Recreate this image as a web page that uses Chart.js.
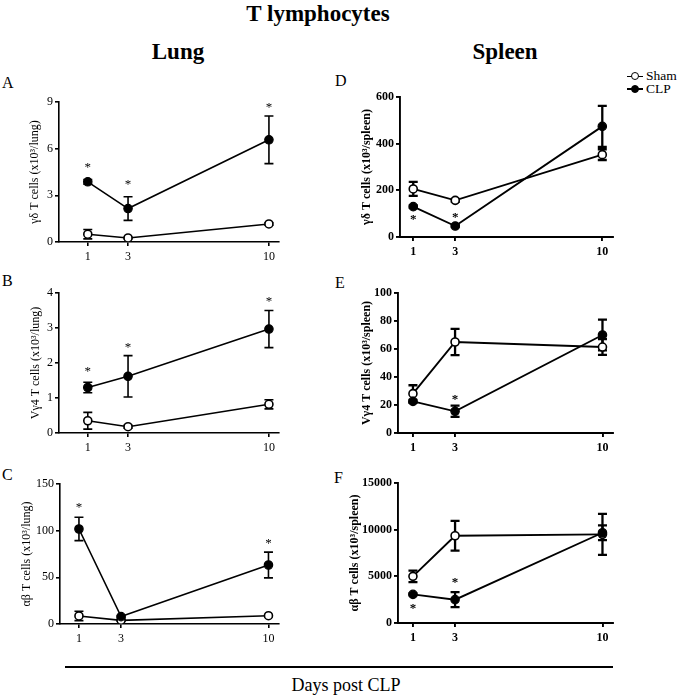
<!DOCTYPE html>
<html>
<head>
<meta charset="utf-8">
<script src="https://cdn.jsdelivr.net/npm/chart.js@4.4.1/dist/chart.umd.min.js"></script>
<style>
  body { margin: 0; background: #fff; }
  #fig { position: relative; width: 685px; height: 696px; background: #fff; font-family: "Liberation Serif", serif; color: #000; }
  .txt { position: absolute; white-space: nowrap; line-height: 1; }
  .head { font-weight: bold; font-size: 23px; }
  .letter { font-size: 16px; }
  canvas { position: absolute; }
  .leg { position: absolute; font-size: 13.5px; line-height: 12.5px; }
  .sym { position: relative; display: inline-block; width: 16px; height: 10px; margin-right: 3px; vertical-align: middle; }
  .sym::before { content: ''; position: absolute; left: 0; right: 0; top: 4px; height: 1.5px; background: #000; }
  .sym::after { content: ''; position: absolute; left: 3.5px; top: 0.5px; width: 6px; height: 6px; border: 1.5px solid #000; border-radius: 50%; background: #fff; }
  .sym.filled::after { background: #000; }
</style>
</head>
<body>
<div id="fig">
  <div class="txt head" style="left:318px;top:2px;transform:translateX(-50%)">T lymphocytes</div>
  <div class="txt head" style="left:178px;top:40px;transform:translateX(-50%)">Lung</div>
  <div class="txt head" style="left:505px;top:40px;transform:translateX(-50%)">Spleen</div>
  <div class="txt letter" style="left:2px;top:75px">A</div>
  <div class="txt letter" style="left:2px;top:273px">B</div>
  <div class="txt letter" style="left:2px;top:467px">C</div>
  <div class="txt letter" style="left:335px;top:73px">D</div>
  <div class="txt letter" style="left:335px;top:275px">E</div>
  <div class="txt letter" style="left:334px;top:470px">F</div>
  <div class="leg" style="left:627px;top:70px">
    <div><span class="sym"></span>Sham</div>
    <div><span class="sym filled"></span>CLP</div>
  </div>
  <div style="position:absolute;left:65px;top:666px;width:548px;height:1.5px;background:#000"></div>
  <div class="txt" style="left:346px;top:676px;font-size:18px;transform:translateX(-50%)">Days post CLP</div>
</div>
<script>
const days = [1, 3, 10];

// A: lung gamma-delta
const lungGdSham = [0.5, 0.26, 1.16];
const lungGdShamErr = [0.3, 0.05, 0.08];
const lungGdClp = [3.87, 2.15, 6.57];
const lungGdClpErr = [0.15, 0.76, 1.53];
const lungGdStars = [5.0, 3.9, 8.9];

// B: lung Vgamma4
const lungVgSham = [0.35, 0.18, 0.82];
const lungVgShamErr = [0.24, 0.04, 0.13];
const lungVgClp = [1.3, 1.62, 2.97];
const lungVgClpErr = [0.15, 0.59, 0.53];
const lungVgStars = [1.85, 2.55, 3.85];

// C: lung alpha-beta
const lungAbSham = [8.6, 3.9, 8.9];
const lungAbShamErr = [5, 1, 1];
const lungAbClp = [101.8, 7.9, 63.2];
const lungAbClpErr = [12.5, 1, 13.8];
const lungAbStars = [129, null, 90];

// D: spleen gamma-delta
const spleenGdSham = [206, 157, 353];
const spleenGdShamErr = [30, 6, 23];
const spleenGdClp = [130, 47, 474];
const spleenGdClpErr = [5, 5, 88];
const spleenGdStars = [89, 99, null];

// E: spleen Vgamma4
const spleenVgSham = [28.1, 65, 61.4];
const spleenVgShamErr = [6, 9.4, 5.6];
const spleenVgClp = [22.6, 15.5, 70];
const spleenVgClpErr = [1, 4, 11];
const spleenVgStars = [null, 26.7, null];

// F: spleen alpha-beta
const spleenAbSham = [5000, 9350, 9500];
const spleenAbShamErr = [620, 1600, 2200];
const spleenAbClp = [3070, 2500, 9670];
const spleenAbClpErr = [100, 800, 800];
const spleenAbStars = [1893, 4714, null];

const FONT = "Liberation Serif";

const panels = [
  { box: [59, 102, 279, 242], x: [-0.43, 10.5], yMax: 9, step: 3, titleX: 35, title: "γδ T cells (x10³/lung)",
    sham: lungGdSham, shamErr: lungGdShamErr, clp: lungGdClp, clpErr: lungGdClpErr, stars: lungGdStars },
  { box: [59, 293, 279, 433], x: [-0.43, 10.5], yMax: 4, step: 1, titleX: 36, title: "Vγ4 T cells (x10³/lung)",
    sham: lungVgSham, shamErr: lungVgShamErr, clp: lungVgClp, clpErr: lungVgClpErr, stars: lungVgStars },
  { box: [60, 484, 279, 624], x: [0.1, 10.5], yMax: 150, step: 50, titleX: 27, title: "αβ T cells (x10³/lung)",
    sham: lungAbSham, shamErr: lungAbShamErr, clp: lungAbClp, clpErr: lungAbClpErr, stars: lungAbStars },
  { box: [400, 97, 613, 237], x: [0.37, 10.51], yMax: 600, step: 200, titleX: 367, title: "γδ T cells (x10³/spleen)", bold: true,
    sham: spleenGdSham, shamErr: spleenGdShamErr, clp: spleenGdClp, clpErr: spleenGdClpErr, stars: spleenGdStars },
  { box: [398, 293, 613, 433], x: [0.29, 10.5], yMax: 100, step: 20, titleX: 367, title: "Vγ4 T cells (x10³/spleen)", bold: true,
    sham: spleenVgSham, shamErr: spleenVgShamErr, clp: spleenVgClp, clpErr: spleenVgClpErr, stars: spleenVgStars },
  { box: [398, 483, 613, 623], x: [0.29, 10.5], yMax: 15000, step: 5000, titleX: 355, title: "αβ T cells (x10³/spleen)", bold: true,
    sham: spleenAbSham, shamErr: spleenAbShamErr, clp: spleenAbClp, clpErr: spleenAbClpErr, stars: spleenAbStars },
];

// error bars with caps, drawn under the markers
const errorBars = {
  id: "errorBars",
  beforeDatasetsDraw(chart, args, opts) {
    const { ctx, scales: { x, y } } = chart;
    ctx.save();
    ctx.strokeStyle = "#000";
    ctx.lineWidth = opts.width;
    chart.data.datasets.forEach((ds) => {
      ds.data.forEach((p, i) => {
        const e = ds.err[i];
        if (!e) return;
        const px = x.getPixelForValue(p.x);
        const top = y.getPixelForValue(p.y + e);
        const bot = y.getPixelForValue(Math.max(p.y - e, 0));
        ctx.beginPath();
        ctx.moveTo(px, top); ctx.lineTo(px, bot);
        ctx.moveTo(px - 4.5, top); ctx.lineTo(px + 4.5, top);
        ctx.moveTo(px - 4.5, bot); ctx.lineTo(px + 4.5, bot);
        ctx.stroke();
      });
    });
    ctx.restore();
  },
};

const stars = {
  id: "stars",
  afterDatasetsDraw(chart, args, opts) {
    const { ctx, scales: { x, y } } = chart;
    ctx.save();
    ctx.fillStyle = "#000";
    ctx.font = (opts.bold ? "bold " : "") + "13px " + FONT;
    ctx.textAlign = "center";
    ctx.textBaseline = "alphabetic";
    opts.values.forEach((v, i) => {
      if (v == null) return;
      ctx.fillText("*", x.getPixelForValue(days[i]), y.getPixelForValue(v) + 7);
    });
    ctx.restore();
  },
};

const fig = document.getElementById("fig");
const padTop = 10, padRight = 10, xAxisH = 26;

panels.forEach((p) => {
  const [l, t, r, b] = p.box;
  const yW = l - p.titleX + 6 + 2;
  const cv = document.createElement("canvas");
  const w = yW + (r - l) + padRight;
  const h = padTop + (b - t) + xAxisH;
  cv.width = w; cv.height = h;
  cv.style.left = (l - yW) + "px";
  cv.style.top = (t - padTop) + "px";
  cv.style.width = w + "px"; cv.style.height = h + "px";
  fig.appendChild(cv);

  const pts = (vals) => vals.map((v, i) => ({ x: days[i], y: v }));
  const weight = p.bold ? "bold" : "normal";
  const lw = p.bold ? 1.9 : 1.6;

  new Chart(cv, {
    type: "line",
    data: {
      datasets: [
        { label: "CLP", data: pts(p.clp), err: p.clpErr, borderColor: "#000", borderWidth: lw,
          pointRadius: 4.2, pointBackgroundColor: "#000", pointBorderColor: "#000", pointBorderWidth: 1.2 },
        { label: "Sham", data: pts(p.sham), err: p.shamErr, borderColor: "#000", borderWidth: lw,
          pointRadius: 4, pointBackgroundColor: "#fff", pointBorderColor: "#000", pointBorderWidth: 1.6 },
      ],
    },
    options: {
      responsive: false,
      animation: false,
      layout: { padding: { top: padTop, right: padRight, left: 0, bottom: 0 } },
      plugins: {
        legend: { display: false }, tooltip: { enabled: false },
        stars: { values: p.stars, bold: p.bold },
        errorBars: { width: p.bold ? 2.3 : 1.6 },
      },
      scales: {
        x: {
          type: "linear", min: p.x[0], max: p.x[1],
          afterBuildTicks: (s) => { s.ticks = days.map((v) => ({ value: v })); },
          afterFit: (s) => { s.height = xAxisH; },
          grid: { drawOnChartArea: false, tickLength: 4, color: "#000", lineWidth: lw },
          border: { color: "#000", width: lw },
          ticks: { color: "#000", font: { family: FONT, size: 12, weight }, padding: 4, maxRotation: 0 },
        },
        y: {
          min: 0, max: p.yMax,
          ticks: { stepSize: p.step, color: "#000", font: { family: FONT, size: 12, weight }, padding: 2, callback: (v) => String(v) },
          afterFit: (s) => { s.width = yW; },
          grid: { drawOnChartArea: false, tickLength: 4, color: "#000", lineWidth: lw },
          border: { color: "#000", width: lw },
          title: { display: true, text: p.title, color: "#000", font: { family: FONT, size: 12, weight, lineHeight: 1 }, padding: { top: 2, bottom: 0 } },
        },
      },
    },
    plugins: [errorBars, stars],
  });
});
</script>
</body>
</html>
